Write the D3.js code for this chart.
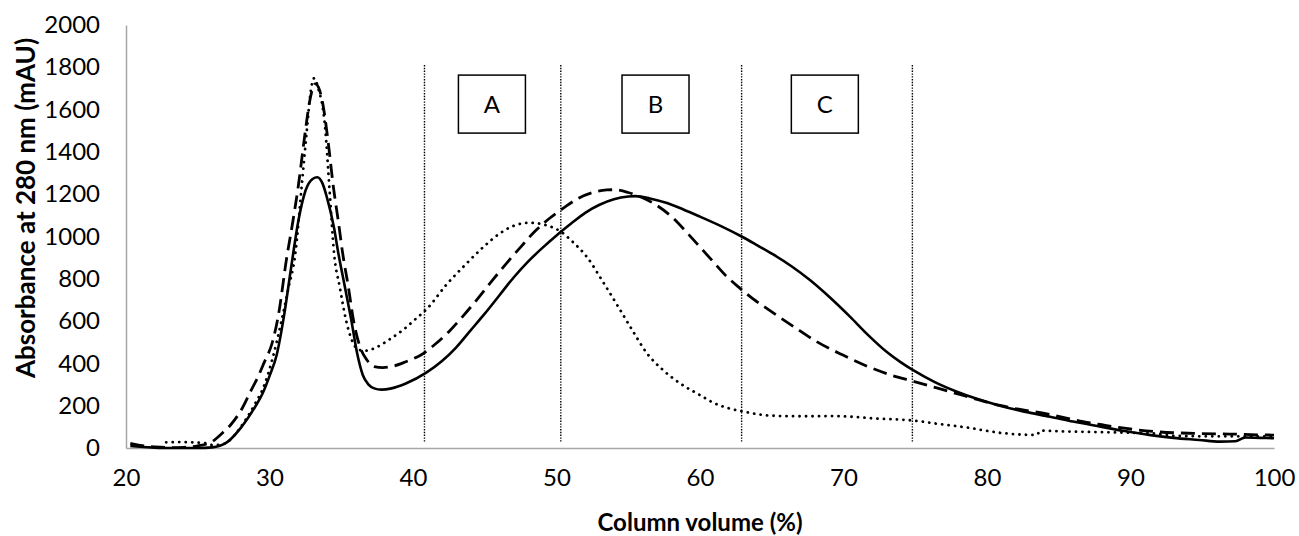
<!DOCTYPE html>
<html>
<head>
<meta charset="utf-8">
<script src="https://cdn.jsdelivr.net/npm/d3@7/dist/d3.min.js"></script>
<style>
  html, body { margin: 0; padding: 0; background: #fff; }
  svg { display: block; }
  text { font-family: Lato, "Open Sans", sans-serif; fill: #000; }
</style>
</head>
<body>
<svg id="chart" width="1299" height="536"></svg>
<script>
// ---- Data ----
const xTicks = [20, 30, 40, 50, 60, 70, 80, 90, 100];
const yTicks = [0, 200, 400, 600, 800, 1000, 1200, 1400, 1600, 1800, 2000];

const volSolid = [20.3,21,22,23,24,25,26,27,28,29,29.5,30,30.5,31,31.5,32,32.5,33,33.33,33.7,34,34.5,34.8,35.2,35.7,36.1,36.5,36.9,37.3,37.8,38.5,39.5,40.9,42,43,44,45,46,47,48,49,50,51,52,53,54,55,55.5,56.5,57.7,58.84,60,61.5,62.9,64,65.1,66.4,67.66,69,70.45,71.7,73,74,75,76.4,77.9,79.4,80.9,82.6,84.4,86,87.9,89.6,91.4,93,94.8,96.2,97.3,98,99,100];
const absSolid = [10,6,2,0,0,0,3,25,95,195,255,340,440,620,850,1070,1215,1272,1280,1250,1185,1040,920,780,605,450,345,300,282,276,282,305,355,410,475,555,635,720,805,880,945,1005,1060,1112,1150,1176,1189,1191,1180,1158,1128,1094,1048,1000,958,915,858,794,715,621,535,455,405,362,310,266,230,200,172,148,125,101,80,61,48,38,30,32,50,48,46];

const volDashed = [20.3,21,22,23,24,25,26,26.7,27.3,28.1,28.7,29.2,29.6,30.2,30.6,31.2,31.6,32,32.5,32.8,33.2,33.5,33.75,34.1,34.45,34.8,35.1,35.5,35.85,36.3,36.8,37.3,37.9,38.5,39.5,40.55,41.5,42.5,43.5,44.5,45.5,46.5,47.5,48.5,49.5,50.5,51.5,52.5,53.5,54,55,56,56.75,58,59.07,60,60.93,61.8,62.79,63.7,64.65,66.5,68.13,70,71.6,73.3,75,76.5,78.1,79.5,80.9,82.5,84,85.3,86.7,88,89.3,91.8,94.4,96.9,99.2,100];
const absDashed = [22,12,5,2,3,10,30,70,110,188,270,337,400,500,620,900,1060,1235,1500,1640,1722,1690,1614,1440,1235,1070,920,760,605,480,415,385,380,385,408,440,488,550,625,705,790,872,950,1025,1085,1135,1180,1208,1220,1221,1208,1183,1157,1095,1020,950,880,815,755,705,660,575,503,438,388,345,313,284,253,226,201,180,164,145,125,110,96,77,69,66,62,61];

const volDotted = [22.8,23.5,24.5,25.4,26,26.5,27,28,29,29.6,30.2,30.85,31.3,31.8,32.24,32.6,32.87,33.1,33.4,33.87,34.17,34.5,34.9,35.33,35.8,36.2,36.7,37.5,38.4,39.3,40.1,41,42.3,43.74,44.9,46.06,47,48.15,49.2,50.3,51.2,52.1,53.2,54.3,55.3,56.3,57.4,58.6,60,60.9,62,62.9,64,65.7,67.5,69.3,70.5,72.08,74.98,76.5,78.58,80.9,83.2,83.5,83.7,85,87,90,91.8,93.2,96,100];
const absDotted = [27,28,27,24,15,15,25,100,210,290,420,605,750,920,1235,1500,1685,1748,1700,1519,1235,920,760,605,500,465,460,478,515,558,605,660,770,873,950,1015,1050,1065,1055,1023,970,905,790,668,555,448,370,306,250,215,188,174,160,151,150,151,148,140,129,115,97,72,62,64,82,79,76,72,68,57,55,55];

const regionBounds = [40.8, 50.3, 62.9, 74.8];
const regionLabels = ["A", "B", "C"];
const regionLabelX = [45.5, 56.9, 68.7];
const regionLabelY = 1626;

const xTitle = "Column volume (%)";
const yTitle = "Absorbance at 280 nm (mAU)";

// ---- Layout ----
const svg = d3.select("#chart");
const x = d3.scaleLinear().domain([20, 100]).range([126, 1274]);
const y = d3.scaleLinear().domain([0, 2000]).range([448, 25]);
const axisColor = "#a6a6a6";

// Axes
const yAxis = svg.append("g").attr("transform", `translate(${x(20)},0)`)
  .call(d3.axisLeft(y).tickValues(yTicks).tickSize(0).tickPadding(26).tickFormat(d3.format("d")));
yAxis.select(".domain").attr("stroke", axisColor).attr("stroke-width", 1.5);
yAxis.selectAll("text").attr("font-size", 24).attr("font-family", "Lato, sans-serif").attr("fill", "#000");

const xAxis = svg.append("g").attr("transform", `translate(0,${y(0)})`)
  .call(d3.axisBottom(x).tickValues(xTicks).tickSize(0).tickPadding(21).tickFormat(d3.format("d")));
xAxis.select(".domain").attr("stroke", axisColor).attr("stroke-width", 1.5);
xAxis.selectAll("text").attr("font-size", 24).attr("font-family", "Lato, sans-serif").attr("fill", "#000");

// Region separators
svg.append("g").selectAll("line").data(regionBounds).join("line")
  .attr("x1", d => x(d)).attr("x2", d => x(d))
  .attr("y1", 65).attr("y2", 443)
  .attr("stroke", "#000").attr("stroke-width", 1.4)
  .attr("stroke-dasharray", "1.4,1.4");

// Series
const line = d3.line().x(d => x(d[0])).y(d => y(d[1])).curve(d3.curveMonotoneX);
const series = [
  { vol: volDotted, abs: absDotted, dash: "0.1,6.4", cap: "round", w: 2.8 },
  { vol: volDashed, abs: absDashed, dash: "14,7", cap: "butt", w: 2.8 },
  { vol: volSolid, abs: absSolid, dash: null, cap: "butt", w: 2.6 }
];
series.forEach(s => {
  svg.append("path")
    .datum(d3.zip(s.vol, s.abs))
    .attr("d", line)
    .attr("fill", "none")
    .attr("stroke", "#000")
    .attr("stroke-width", s.w)
    .attr("stroke-linecap", s.cap)
    .attr("stroke-linejoin", "round")
    .attr("stroke-dasharray", s.dash);
});

// Region label boxes
const boxW = 67, boxH = 58;
const boxes = svg.append("g").selectAll("g").data(regionLabels).join("g")
  .attr("transform", (d, i) => `translate(${x(regionLabelX[i])},${y(regionLabelY)})`);
boxes.append("rect")
  .attr("x", -boxW / 2).attr("y", -boxH / 2).attr("width", boxW).attr("height", boxH)
  .attr("fill", "#fff").attr("stroke", "#000").attr("stroke-width", 1.5);
boxes.append("text")
  .attr("text-anchor", "middle").attr("dy", "0.36em")
  .attr("font-size", 24).text(d => d);

// Axis titles
svg.append("text")
  .attr("x", 700).attr("y", 522).attr("dy", "0.36em")
  .attr("text-anchor", "middle").attr("font-weight", "bold").attr("font-size", 24)
  .text(xTitle);
svg.append("text")
  .attr("transform", "translate(26,208) rotate(-90)")
  .attr("dy", "0.36em")
  .attr("text-anchor", "middle").attr("font-weight", "bold").attr("font-size", 26)
  .text(yTitle);
</script>
</body>
</html>
